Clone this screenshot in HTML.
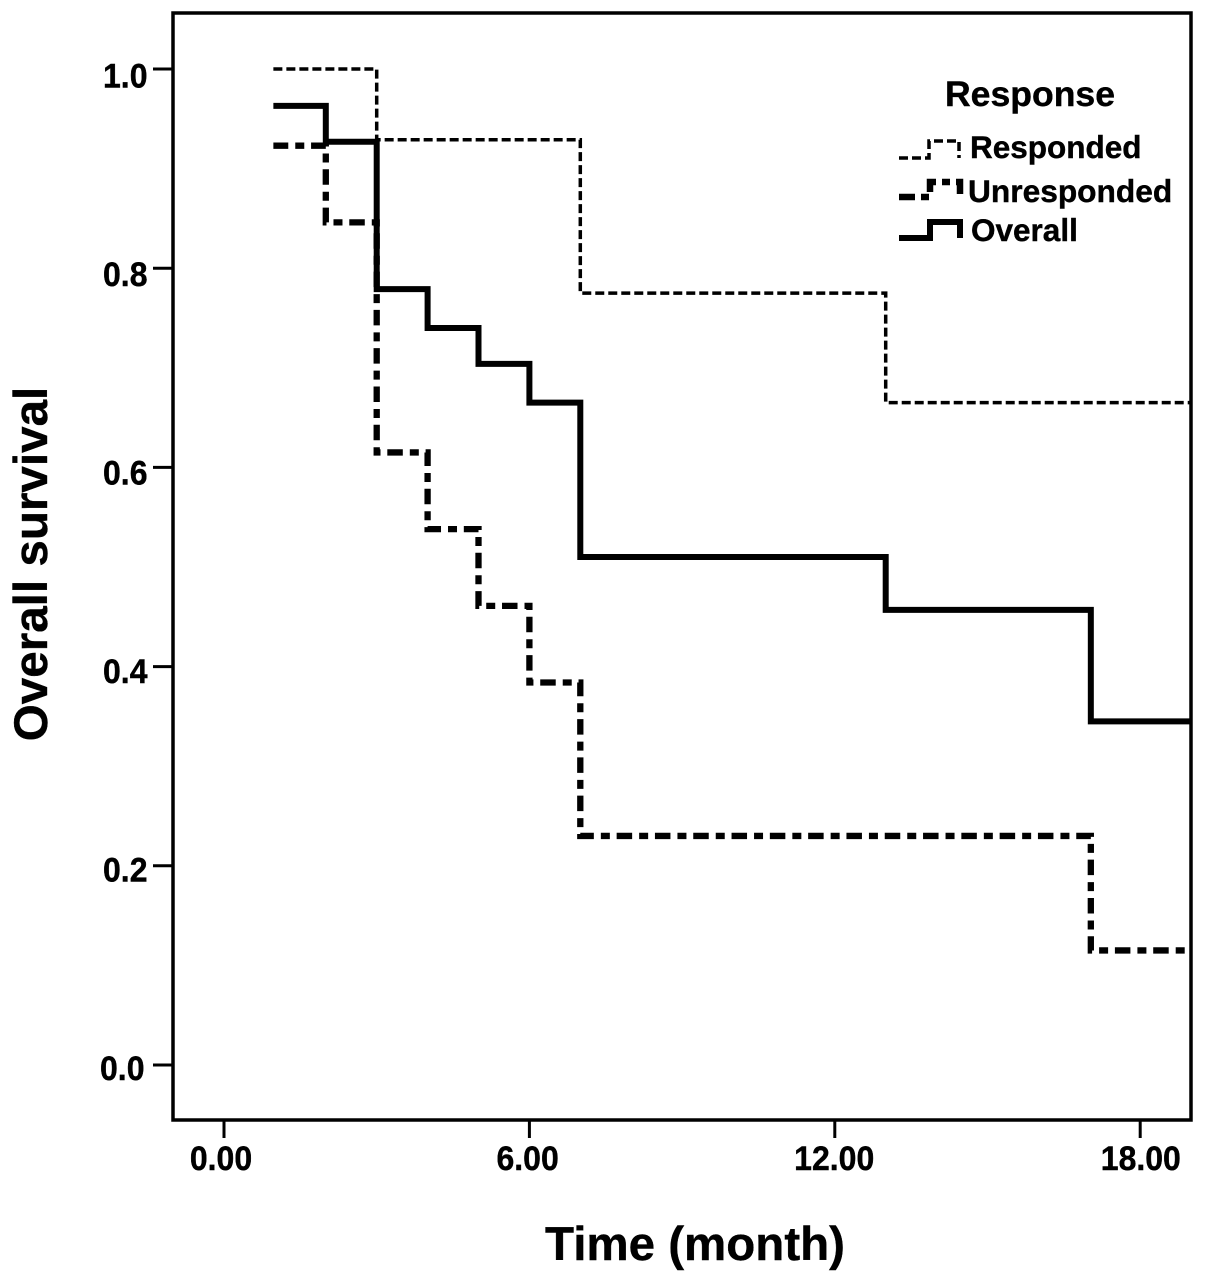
<!DOCTYPE html>
<html>
<head>
<meta charset="utf-8">
<title>Overall survival</title>
<style>
html,body{margin:0;padding:0;background:#fff}
svg{display:block}
text{font-family:"Liberation Sans",Arial,sans-serif;font-weight:bold;fill:#000;stroke:#000;stroke-width:0.4}
</style>
</head>
<body>
<svg id="chart" xmlns="http://www.w3.org/2000/svg" width="1205" height="1281" viewBox="0 0 1205 1281">
  <rect x="173" y="13" width="1018" height="1107" fill="none" stroke="#000" stroke-width="3.5"/>
  <g id="axes"></g>
  <g id="series"></g>
  <text transform="translate(47,564) rotate(-90)" text-anchor="middle" font-size="47.6">Overall survival</text>
  <text x="695" y="1260" text-anchor="middle" font-size="47.5">Time (month)</text>
  <g>
    <text x="1030" y="106" text-anchor="middle" font-size="35.6">Response</text>
    <path d="M899 158H929V141H959V158" fill="none" stroke="#000" stroke-width="3.5" stroke-dasharray="9 4"/>
    <text x="970" y="158" font-size="31.5">Responded</text>
    <path d="M899 197H930V182H960V197" fill="none" stroke="#000" stroke-width="6.5" stroke-dasharray="16 6 8 6"/>
    <text x="968" y="202" font-size="31.7">Unresponded</text>
    <path d="M899 238H930V222H960V238" fill="none" stroke="#000" stroke-width="6"/>
    <text x="971" y="241" font-size="31.5">Overall</text>
  </g>
</svg>
<script>
var xTicks = [0, 6, 12, 18];
var xTickLabels = ['0.00', '6.00', '12.00', '18.00'];
var yTicks = [0, 0.2, 0.4, 0.6, 0.8, 1.0];
var yTickLabels = ['0.0', '0.2', '0.4', '0.6', '0.8', '1.0'];

var respondedTimes = [0.97, 3, 7, 13, 19];
var respondedSurvival = [1.0, 0.929, 0.775, 0.665];
var unrespondedTimes = [0.97, 2, 3, 4, 5, 6, 7, 17.03, 19];
var unrespondedSurvival = [0.923, 0.846, 0.615, 0.538, 0.461, 0.384, 0.23, 0.115];
var overallTimes = [0.97, 2, 3, 4, 5, 6, 7, 13, 17.03, 19];
var overallSurvival = [0.963, 0.927, 0.779, 0.74, 0.704, 0.665, 0.51, 0.457, 0.345];

function xScale(t) { return 224 + t * 50.9; }
function yScale(v) { return 1065 - v * 996; }
function xLabelPos(t) { return 221 + t * 51.1; }
function yLabelPos(v) { return yScale(v) + 15 + v * 3.5; }

var NS = 'http://www.w3.org/2000/svg';
var axes = document.getElementById('axes');
var seriesGroup = document.getElementById('series');

function make(tag, attrs, parent, content) {
  var el = document.createElementNS(NS, tag);
  for (var k in attrs) el.setAttribute(k, attrs[k]);
  if (content !== undefined) el.textContent = content;
  parent.appendChild(el);
  return el;
}

xTicks.forEach(function (t, i) {
  var x = xScale(t);
  var tick = make('line', {x1: x, x2: x, y1: 1120, y2: 1138, stroke: '#000', 'stroke-width': 3}, axes);
  
  
  var label = make('text', {transform: 'translate(' + xLabelPos(t) + ',1170) scale(1,1.06)', 'text-anchor': 'middle', 'font-size': 32}, axes, xTickLabels[i]);
  
  
});

yTicks.forEach(function (v, i) {
  var y = yScale(v);
  var tick = make('line', {x1: 153, x2: 173, y1: y, y2: y, stroke: '#000', 'stroke-width': 3}, axes);
  
  
  var lx = i === 0 ? 144.5 : 147.5;
  var label = make('text', {transform: 'translate(' + lx + ',' + yLabelPos(v) + ') scale(1,1.06)', 'text-anchor': 'end', 'font-size': 32}, axes, yTickLabels[i]);
  
  
});

function stepPath(times, values) {
  var d = 'M' + xScale(times[0]) + ' ' + yScale(values[0]);
  for (var i = 0; i < values.length; i++) {
    d += 'H' + xScale(times[i + 1]);
    if (i + 1 < values.length) d += 'V' + yScale(values[i + 1]);
  }
  return d;
}

var respondedLine = make('path', {d: stepPath(respondedTimes, respondedSurvival), fill: 'none', stroke: '#000', 'stroke-width': 3.5, 'stroke-dasharray': '9 4'}, seriesGroup);



var unrespondedLine = make('path', {d: stepPath(unrespondedTimes, unrespondedSurvival), fill: 'none', stroke: '#000', 'stroke-width': 6.3, 'stroke-dasharray': '15.5 7 9 6.8', 'stroke-dashoffset': 0.6}, seriesGroup);



var overallLine = make('path', {d: stepPath(overallTimes, overallSurvival), fill: 'none', stroke: '#000', 'stroke-width': 6, 'stroke-linejoin': 'miter'}, seriesGroup);


</script>
</body>
</html>
